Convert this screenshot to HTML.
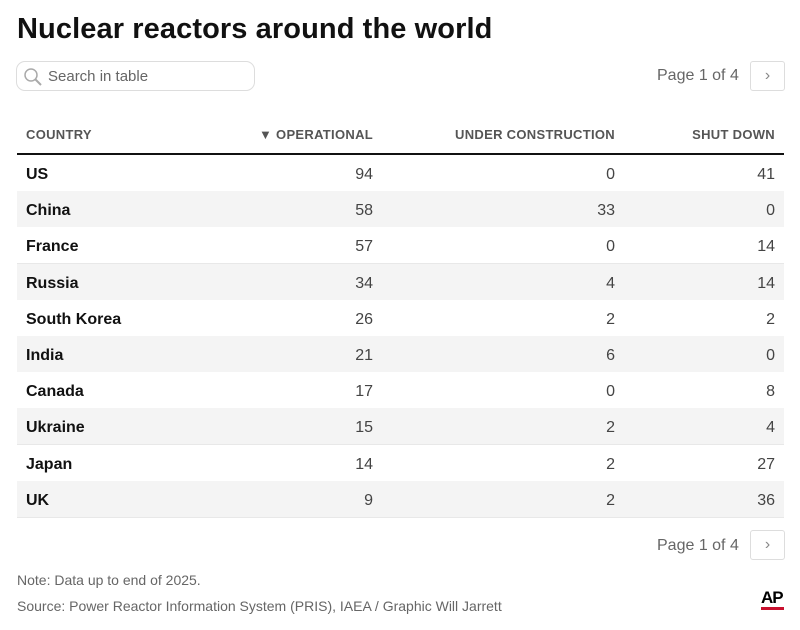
<!DOCTYPE html>
<html><head><style>
body{margin:0;width:800px;height:630px;background:#fff;font-family:"Liberation Sans",sans-serif;position:relative;overflow:hidden}
.a{position:absolute}
h1{position:absolute;left:17px;top:13px;margin:0;font-size:29px;font-weight:bold;color:#111;letter-spacing:0.1px}
.search{left:16px;top:61px;width:237px;height:28px;border:1px solid #ddd;border-radius:9px}
.pg{font-size:16px;color:#666}
.btn{width:33px;height:28px;border:1px solid #ddd;border-radius:3px;color:#888;text-align:center;line-height:28px;font-size:16px}
.hd{top:127px;font-size:13px;font-weight:bold;color:#555;letter-spacing:0.3px}
.row{position:absolute;left:17px;width:767px;height:36px;border-bottom:1px solid #e8e8e8;font-size:16px}
.row span{position:absolute;top:11px}
.c{left:9px;font-weight:bold;color:#111}
.n{color:#444}
.foot{font-size:14px;color:#666}
</style></head><body>
<h1>Nuclear reactors around the world</h1>
<div class="a search"><svg class="a" style="left:6px;top:5px" width="20" height="20"><circle cx="8" cy="8" r="6" fill="none" stroke="#aaa" stroke-width="1.5"/><line x1="12.5" y1="12.5" x2="18" y2="18" stroke="#aaa" stroke-width="2"/></svg><span class="a" style="left:31px;top:6px;font-size:15px;color:#666">Search in table</span></div>
<div class="a pg" style="left:657px;top:67px">Page 1 of 4</div>
<div class="a btn" style="left:750px;top:61px">&#8250;</div>
<div class="a hd" style="left:26px">COUNTRY</div>
<div class="a hd" style="right:427px">▼ OPERATIONAL</div>
<div class="a hd" style="right:185px">UNDER CONSTRUCTION</div>
<div class="a hd" style="right:25px">SHUT DOWN</div>
<div class="a" style="left:17px;top:153px;width:767px;height:2px;background:#111"></div>
<div id="t"></div>
<div class="a pg" style="left:657px;top:537px">Page 1 of 4</div>
<div class="a btn" style="left:750px;top:530px">&#8250;</div>
<div class="a foot" style="left:17px;top:572px">Note: Data up to end of 2025.</div>
<div class="a foot" style="left:17px;top:598px">Source: Power Reactor Information System (PRIS), IAEA / Graphic Will Jarrett</div>
<div class="a" style="left:761px;top:588px;font-size:17px;font-weight:bold;color:#000;letter-spacing:-1px">AP</div>
<div class="a" style="left:761px;top:607px;width:23px;height:3px;background:#c8102e"></div>
<script>
var d=[["US",94,0,41],["China",58,33,0],["France",57,0,14],["Russia",34,4,14],["South Korea",26,2,2],["India",21,6,0],["Canada",17,0,8],["Ukraine",15,2,4],["Japan",14,2,27],["UK",9,2,36]];
var h="";d.forEach(function(r,i){h+='<div class="row" style="top:'+(155+i*36.2)+'px;background:'+(i%2?'#f4f4f4':'#fff')+'"><span class="c">'+r[0]+'</span><span class="n" style="right:411px">'+r[1]+'</span><span class="n" style="right:169px">'+r[2]+'</span><span class="n" style="right:9px">'+r[3]+'</span></div>';});
document.getElementById("t").innerHTML=h;
</script>
</body></html>
